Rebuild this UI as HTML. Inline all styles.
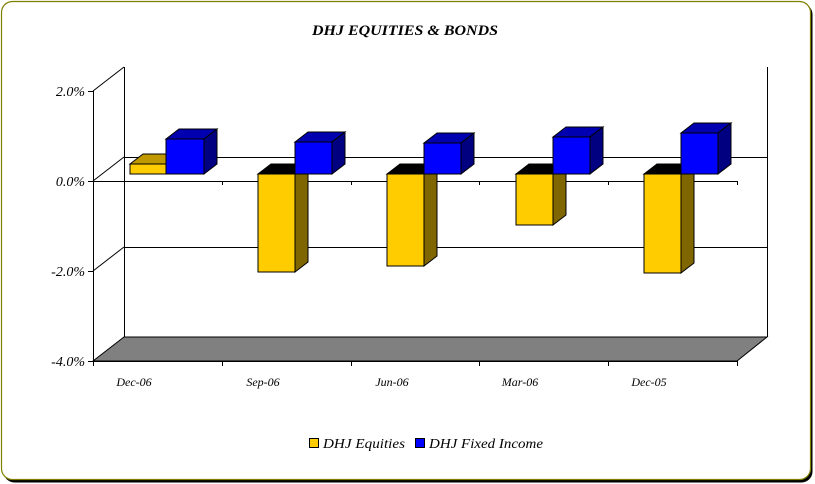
<!DOCTYPE html>
<html><head><meta charset="utf-8"><style>
html,body{margin:0;padding:0;background:#fff;}
svg{display:block;}
text{font-family:"Liberation Serif",serif;font-style:italic;}
</style></head><body>
<svg width="815" height="484" viewBox="0 0 815 484" xmlns="http://www.w3.org/2000/svg">
<rect x="3.5" y="3.5" width="809" height="479" rx="11" fill="#000"/>
<rect x="1.5" y="1.5" width="809" height="478" rx="11" fill="#fff" stroke="#808000" stroke-width="1.2"/>
<text x="312" y="35" textLength="186" lengthAdjust="spacingAndGlyphs" font-size="15" font-weight="bold">DHJ EQUITIES &amp; BONDS</text>
<g stroke="#000" stroke-width="1" fill="none">
<polygon points="93,361 124,337 767,337 737,361" fill="#808080"/>
<line x1="124.5" y1="67" x2="124.5" y2="337"/>
<line x1="767.5" y1="67" x2="767.5" y2="337"/>
<line x1="124" y1="157.5" x2="767" y2="157.5"/>
<line x1="124" y1="247.5" x2="767" y2="247.5"/>
<line x1="93.5" y1="91" x2="93.5" y2="361"/>
<line x1="93" y1="91" x2="124" y2="67"/>
<line x1="93" y1="181" x2="124" y2="157"/>
<line x1="93" y1="271" x2="124" y2="247"/>
<line x1="88" y1="91.5" x2="93" y2="91.5"/>
<line x1="88" y1="181.5" x2="93" y2="181.5"/>
<line x1="88" y1="271.5" x2="93" y2="271.5"/>
<line x1="88" y1="361.5" x2="93" y2="361.5"/>
<line x1="93" y1="181.5" x2="737" y2="181.5"/>
<line x1="222.5" y1="181" x2="222.5" y2="185"/>
<line x1="351.5" y1="181" x2="351.5" y2="185"/>
<line x1="479.5" y1="181" x2="479.5" y2="185"/>
<line x1="608.5" y1="181" x2="608.5" y2="185"/>
<line x1="737.5" y1="181" x2="737.5" y2="185"/>
<line x1="93" y1="361.5" x2="737" y2="361.5"/>
<line x1="93.5" y1="361" x2="93.5" y2="366"/>
<line x1="222.5" y1="361" x2="222.5" y2="366"/>
<line x1="351.5" y1="361" x2="351.5" y2="366"/>
<line x1="479.5" y1="361" x2="479.5" y2="366"/>
<line x1="608.5" y1="361" x2="608.5" y2="366"/>
<line x1="737.5" y1="361" x2="737.5" y2="366"/>
</g>
<g font-size="14" text-anchor="end">
<text x="85" y="96">2.0%</text>
<text x="85" y="186">0.0%</text>
<text x="85" y="276">-2.0%</text>
<text x="85" y="366">-4.0%</text>
</g>
<g font-size="12" text-anchor="middle">
<text x="134" y="386">Dec-06</text>
<text x="263" y="386">Sep-06</text>
<text x="392" y="386">Jun-06</text>
<text x="520" y="386">Mar-06</text>
<text x="649" y="386">Dec-05</text>
</g>
<g stroke="#000" stroke-width="1" stroke-linejoin="miter">
<polygon points="130,164 143,154 179,154 166,164" fill="#c09800"/>
<rect x="130" y="164" width="36" height="10" fill="#ffcc00"/>
<polygon points="166,139 179,129 217,129 204,139" fill="#0000b0"/>
<polygon points="204,139 217,129 217,164 204,174" fill="#000080"/>
<rect x="166" y="139" width="38" height="35" fill="#0000ff"/>

<polygon points="258,174 271,164 308,164 295,174" fill="#000"/>
<polygon points="295,174 308,164 308,262 295,272" fill="#806600"/>
<rect x="258" y="174" width="37" height="98" fill="#ffcc00"/>
<polygon points="295,142 308,132 345,132 332,142" fill="#0000b0"/>
<polygon points="332,142 345,132 345,164 332,174" fill="#000080"/>
<rect x="295" y="142" width="37" height="32" fill="#0000ff"/>

<polygon points="387,174 400,164 437,164 424,174" fill="#000"/>
<polygon points="424,174 437,164 437,256 424,266" fill="#806600"/>
<rect x="387" y="174" width="37" height="92" fill="#ffcc00"/>
<polygon points="424,143 437,133 474,133 461,143" fill="#0000b0"/>
<polygon points="461,143 474,133 474,164 461,174" fill="#000080"/>
<rect x="424" y="143" width="37" height="31" fill="#0000ff"/>

<polygon points="516,174 529,164 566,164 553,174" fill="#000"/>
<polygon points="553,174 566,164 566,215 553,225" fill="#806600"/>
<rect x="516" y="174" width="37" height="51" fill="#ffcc00"/>
<polygon points="553,137 566,127 603,127 590,137" fill="#0000b0"/>
<polygon points="590,137 603,127 603,164 590,174" fill="#000080"/>
<rect x="553" y="137" width="37" height="37" fill="#0000ff"/>

<polygon points="644,174 657,164 694,164 681,174" fill="#000"/>
<polygon points="681,174 694,164 694,263 681,273" fill="#806600"/>
<rect x="644" y="174" width="37" height="99" fill="#ffcc00"/>
<polygon points="681,133 694,123 731,123 718,133" fill="#0000b0"/>
<polygon points="718,133 731,123 731,164 718,174" fill="#000080"/>
<rect x="681" y="133" width="37" height="41" fill="#0000ff"/>

<rect x="309.5" y="438.5" width="9" height="9" fill="#ffcc00"/>
<rect x="415.5" y="438.5" width="9" height="9" fill="#0000ff"/>
</g>
<g font-size="14">
<text x="323" y="448" textLength="82" lengthAdjust="spacingAndGlyphs">DHJ Equities</text>
<text x="429" y="448" textLength="114" lengthAdjust="spacingAndGlyphs">DHJ Fixed Income</text>
</g>
</svg>
</body></html>
